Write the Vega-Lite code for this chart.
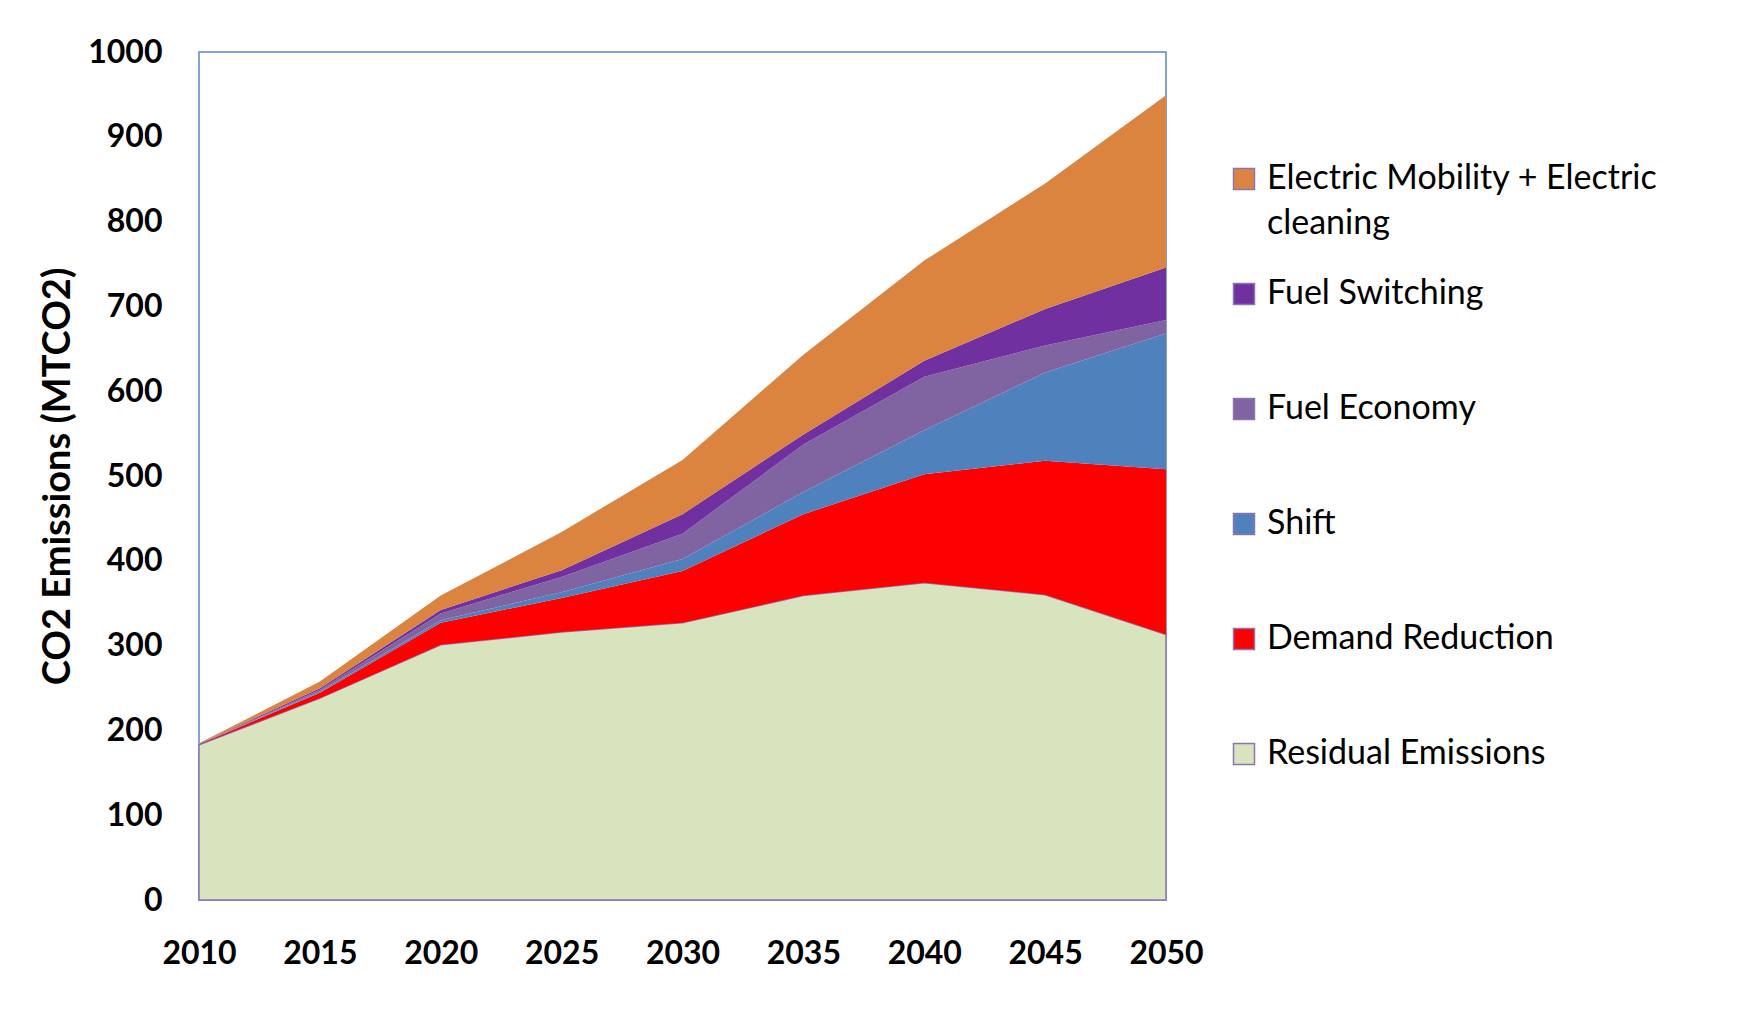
{
  "$schema": "https://vega.github.io/schema/vega-lite/v6.json",
  "width": 967,
  "height": 848,
  "autosize": "none",
  "padding": {"left": 199, "top": 52, "right": 572, "bottom": 109},
  "background": "white",
  "config": {
    "font": "Lato",
    "view": {"stroke": "#5B87C5", "strokeWidth": 1.5},
    "style": {"guide-label": {"lineHeight": 45}}
  },
  "data": {
    "values": [
      {"year": 2010, "category": "Residual Emissions", "ord": 0, "value": 183},
      {"year": 2010, "category": "Demand Reduction", "ord": 1, "value": 0.5},
      {"year": 2010, "category": "Shift", "ord": 2, "value": 0.2},
      {"year": 2010, "category": "Fuel Economy", "ord": 3, "value": 0.2},
      {"year": 2010, "category": "Fuel Switching", "ord": 4, "value": 0.2},
      {"year": 2010, "category": "Electric Mobility + Electric cleaning", "ord": 5, "value": 0.6},
      {"year": 2015, "category": "Residual Emissions", "ord": 0, "value": 238},
      {"year": 2015, "category": "Demand Reduction", "ord": 1, "value": 6.5},
      {"year": 2015, "category": "Shift", "ord": 2, "value": 1.3},
      {"year": 2015, "category": "Fuel Economy", "ord": 3, "value": 2},
      {"year": 2015, "category": "Fuel Switching", "ord": 4, "value": 2},
      {"year": 2015, "category": "Electric Mobility + Electric cleaning", "ord": 5, "value": 8},
      {"year": 2020, "category": "Residual Emissions", "ord": 0, "value": 301},
      {"year": 2020, "category": "Demand Reduction", "ord": 1, "value": 26},
      {"year": 2020, "category": "Shift", "ord": 2, "value": 3},
      {"year": 2020, "category": "Fuel Economy", "ord": 3, "value": 8},
      {"year": 2020, "category": "Fuel Switching", "ord": 4, "value": 4},
      {"year": 2020, "category": "Electric Mobility + Electric cleaning", "ord": 5, "value": 17},
      {"year": 2025, "category": "Residual Emissions", "ord": 0, "value": 316},
      {"year": 2025, "category": "Demand Reduction", "ord": 1, "value": 40},
      {"year": 2025, "category": "Shift", "ord": 2, "value": 7},
      {"year": 2025, "category": "Fuel Economy", "ord": 3, "value": 18},
      {"year": 2025, "category": "Fuel Switching", "ord": 4, "value": 8},
      {"year": 2025, "category": "Electric Mobility + Electric cleaning", "ord": 5, "value": 45},
      {"year": 2030, "category": "Residual Emissions", "ord": 0, "value": 327},
      {"year": 2030, "category": "Demand Reduction", "ord": 1, "value": 61},
      {"year": 2030, "category": "Shift", "ord": 2, "value": 14},
      {"year": 2030, "category": "Fuel Economy", "ord": 3, "value": 30},
      {"year": 2030, "category": "Fuel Switching", "ord": 4, "value": 23},
      {"year": 2030, "category": "Electric Mobility + Electric cleaning", "ord": 5, "value": 64},
      {"year": 2035, "category": "Residual Emissions", "ord": 0, "value": 359},
      {"year": 2035, "category": "Demand Reduction", "ord": 1, "value": 96},
      {"year": 2035, "category": "Shift", "ord": 2, "value": 26},
      {"year": 2035, "category": "Fuel Economy", "ord": 3, "value": 56},
      {"year": 2035, "category": "Fuel Switching", "ord": 4, "value": 12},
      {"year": 2035, "category": "Electric Mobility + Electric cleaning", "ord": 5, "value": 94},
      {"year": 2040, "category": "Residual Emissions", "ord": 0, "value": 374},
      {"year": 2040, "category": "Demand Reduction", "ord": 1, "value": 128},
      {"year": 2040, "category": "Shift", "ord": 2, "value": 52},
      {"year": 2040, "category": "Fuel Economy", "ord": 3, "value": 63},
      {"year": 2040, "category": "Fuel Switching", "ord": 4, "value": 19},
      {"year": 2040, "category": "Electric Mobility + Electric cleaning", "ord": 5, "value": 118},
      {"year": 2045, "category": "Residual Emissions", "ord": 0, "value": 360},
      {"year": 2045, "category": "Demand Reduction", "ord": 1, "value": 158},
      {"year": 2045, "category": "Shift", "ord": 2, "value": 104},
      {"year": 2045, "category": "Fuel Economy", "ord": 3, "value": 32},
      {"year": 2045, "category": "Fuel Switching", "ord": 4, "value": 43},
      {"year": 2045, "category": "Electric Mobility + Electric cleaning", "ord": 5, "value": 148},
      {"year": 2050, "category": "Residual Emissions", "ord": 0, "value": 313},
      {"year": 2050, "category": "Demand Reduction", "ord": 1, "value": 195},
      {"year": 2050, "category": "Shift", "ord": 2, "value": 160},
      {"year": 2050, "category": "Fuel Economy", "ord": 3, "value": 16},
      {"year": 2050, "category": "Fuel Switching", "ord": 4, "value": 62},
      {"year": 2050, "category": "Electric Mobility + Electric cleaning", "ord": 5, "value": 203}
    ]
  },
  "mark": {"type": "area", "opacity": 1, "stroke": "#8A74B8", "strokeWidth": 1.5},
  "encoding": {
    "x": {
      "field": "year",
      "type": "quantitative",
      "scale": {"domain": [2010, 2050], "nice": false, "zero": false},
      "axis": {
        "title": null,
        "values": [2010, 2015, 2020, 2025, 2030, 2035, 2040, 2045, 2050],
        "format": "d",
        "grid": false,
        "domain": false,
        "ticks": false,
        "labelFontSize": 32,
        "labelFontWeight": "bold",
        "labelColor": "#000000",
        "labelPadding": 38,
        "labelFlush": false
      }
    },
    "y": {
      "field": "value",
      "type": "quantitative",
      "stack": "zero",
      "scale": {"domain": [0, 1000], "nice": false},
      "axis": {
        "title": "CO2 Emissions (MTCO2)",
        "titleFontSize": 38,
        "titleFontWeight": "bold",
        "titleColor": "#000000",
        "titlePadding": 10,
        "values": [0, 100, 200, 300, 400, 500, 600, 700, 800, 900, 1000],
        "format": "d",
        "grid": false,
        "domain": false,
        "ticks": false,
        "labelFontSize": 32,
        "labelFontWeight": "bold",
        "labelColor": "#000000",
        "labelPadding": 37,
        "labelFlush": false
      }
    },
    "color": {
      "field": "category",
      "type": "nominal",
      "scale": {
        "domain": ["Electric Mobility + Electric cleaning", "Fuel Switching", "Fuel Economy", "Shift", "Demand Reduction", "Residual Emissions"],
        "range": ["#DA843F", "#7030A0", "#8064A2", "#4F81BD", "#FF0000", "#D7E4BD"]
      },
      "legend": {
        "title": null,
        "orient": "none",
        "legendX": 1028,
        "legendY": 110,
        "symbolType": "square",
        "symbolSize": 441,
        "symbolOpacity": 1,
        "labelFontSize": 34,
        "labelColor": "#000000",
        "labelOffset": 6,
        "labelLimit": 0,
        "gridAlign": "all",
        "rowPadding": 36,
        "labelExpr": "datum.label === 'Electric Mobility + Electric cleaning' ? ['Electric Mobility + Electric', 'cleaning'] : datum.label",
        "encode": {
          "labels": {"enter": {"lineHeight": {"value": 45}}, "update": {"lineHeight": {"value": 45}}},
          "symbols": {
            "update": {
              "strokeOpacity": [{"test": "datum.value === 'Residual Emissions'", "value": 1}, {"value": 0}],
              "strokeWidth": {"value": 3}
            }
          }
        }
      }
    },
    "strokeOpacity": {
      "condition": {"test": "datum.category === 'Residual Emissions'", "value": 1},
      "value": 0
    },
    "order": {"field": "ord", "type": "quantitative"}
  }
}
